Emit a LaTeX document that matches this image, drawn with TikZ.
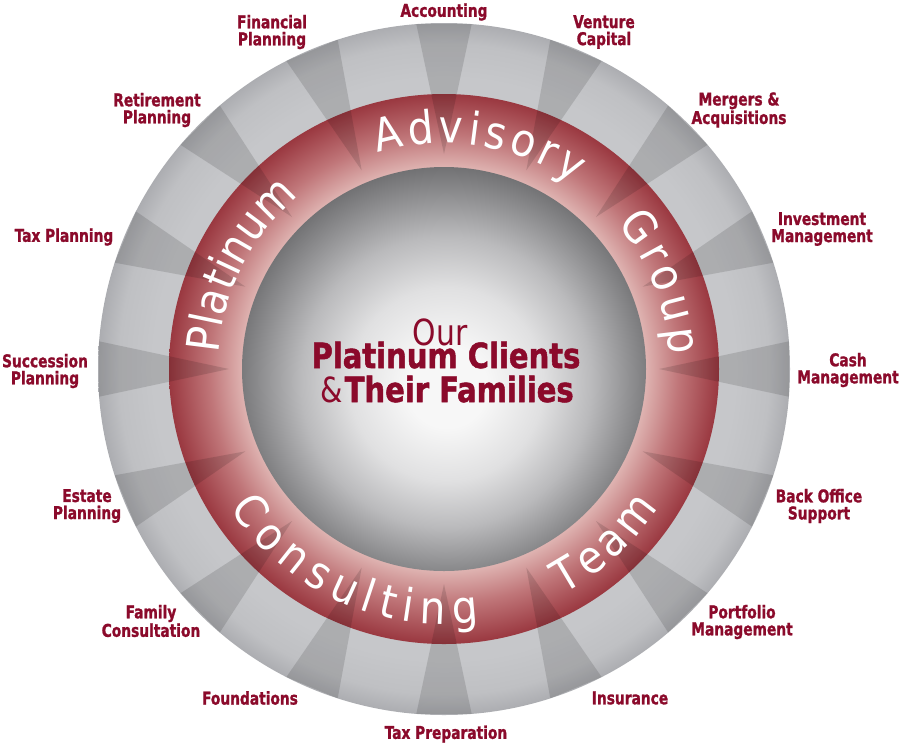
\documentclass[tikz,border=0pt]{standalone}
\usepackage{fontspec}
\usetikzlibrary{decorations.text}
\newfontfamily\lblfont{DejaVuSansCondensed-Bold.ttf}[FakeStretch=0.87, FakeBold=1.2]
\newfontfamily\ctrfont{DejaVuSansCondensed-Bold.ttf}[FakeStretch=0.93, FakeBold=1.4]
\newfontfamily\ringfont{DejaVuSansCondensed.ttf}
\newfontfamily\thinfont{DejaVuSansCondensed.ttf}[FakeStretch=0.92]
\definecolor{lblred}{RGB}{139,10,43}
\definecolor{grayIn}{RGB}{198,199,202}
\definecolor{grayMid}{RGB}{191,192,195}
\definecolor{grayOut}{RGB}{172,173,177}
\definecolor{ringIn}{RGB}{222,178,176}
\definecolor{ringMid}{RGB}{192,118,121}
\definecolor{ringOut}{RGB}{154,56,64}
\definecolor{sphHi}{RGB}{247,247,247}
\definecolor{sphA}{RGB}{224,224,225}
\definecolor{sphB}{RGB}{186,186,188}
\definecolor{sphC}{RGB}{146,146,148}
\definecolor{sphEdge}{RGB}{102,102,104}
\pgfdeclareradialshading{grayring}{\pgfpointorigin}{color(0bp)=(grayIn); color(21bp)=(grayIn); color(23.5bp)=(grayMid); color(25bp)=(grayOut); color(50bp)=(grayOut)}
\pgfdeclareradialshading{redring}{\pgfpointorigin}{color(0bp)=(ringIn); color(18.4bp)=(ringIn); color(21.3bp)=(ringMid); color(25bp)=(ringOut); color(50bp)=(ringOut)}
\pgfdeclareradialshading{sphereshade}{\pgfpoint{0.4bp}{-2.5bp}}{color(0bp)=(sphHi); color(5bp)=(sphHi); color(12bp)=(sphA); color(18bp)=(sphB); color(22.5bp)=(sphC); color(27.5bp)=(sphEdge); color(50bp)=(sphEdge)}

\begin{document}
\begin{tikzpicture}[x=0.75pt,y=0.75pt,yscale=-1,xscale=1,
  svc/.style={font=\lblfont\fontsize{13.2}{12.8}\selectfont, color=lblred, align=center, inner sep=0.75pt},
  shadowwedge/.style={fill=black, fill opacity=0.13, draw opacity=0},
  ringword/.style={decorate, decoration={text along path, text align=fit to path, text={|\ringfont\fontsize{34}{34}\selectfont\color{white}|#1}}}]
%uncomment if require: \path (0,744); %set diagram left start at 0, and has height of 744
\path [use as bounding box, fill=white] (0,0) rectangle (900,744);

%Shape: Circle [id:dp4417302958116321] 
\path [shading=grayring] (444,369) circle (346) ;
%Shape: Circle [id:dp2209183746512204] 
\path [shading=redring] (444,369) circle (275) ;

%Shape: Triangle [id:dp7730215549930112] 
\fill [shadowwedge] (659,369) -- (788.9,396.7) -- (788.9,341.3) -- cycle ;
%Shape: Triangle [id:dp1184027365590021] 
\fill [shadowwedge] (642.6,286.7) -- (773.3,262.7) -- (752,211.4) -- cycle ;
%Shape: Triangle [id:dp9021458733261094] 
\fill [shadowwedge] (596,217) -- (707.5,144.8) -- (668.2,105.5) -- cycle ;
%Shape: Triangle [id:dp3367109925843170] 
\fill [shadowwedge] (526.3,170.4) -- (601.6,61) -- (550.3,39.7) -- cycle ;
%Shape: Triangle [id:dp5502913648070419] 
\fill [shadowwedge] (444,154) -- (471.7,24.1) -- (416.3,24.1) -- cycle ;
%Shape: Triangle [id:dp8812047736520163] 
\fill [shadowwedge] (361.7,170.4) -- (337.7,39.7) -- (286.4,61) -- cycle ;
%Shape: Triangle [id:dp6640192385107725] 
\fill [shadowwedge] (292,217) -- (219.8,105.5) -- (180.5,144.8) -- cycle ;
%Shape: Triangle [id:dp2095573318846602] 
\fill [shadowwedge] (245.4,286.7) -- (136,211.4) -- (114.7,262.7) -- cycle ;
%Shape: Triangle [id:dp4471108250963357] 
\fill [shadowwedge] (229,369) -- (99.1,341.3) -- (99.1,396.7) -- cycle ;
%Shape: Triangle [id:dp7355180442196028] 
\fill [shadowwedge] (245.4,451.3) -- (114.7,475.3) -- (136,526.6) -- cycle ;
%Shape: Triangle [id:dp0937264115588430] 
\fill [shadowwedge] (292,521) -- (180.5,593.2) -- (219.8,632.5) -- cycle ;
%Shape: Triangle [id:dp1568820037741193] 
\fill [shadowwedge] (361.7,567.6) -- (286.4,677) -- (337.7,698.3) -- cycle ;
%Shape: Triangle [id:dp8249361100573316] 
\fill [shadowwedge] (444,584) -- (416.3,713.9) -- (471.7,713.9) -- cycle ;
%Shape: Triangle [id:dp3018842276659147] 
\fill [shadowwedge] (526.3,567.6) -- (550.3,698.3) -- (601.6,677) -- cycle ;
%Shape: Triangle [id:dp6691730415928802] 
\fill [shadowwedge] (596,521) -- (668.2,632.5) -- (707.5,593.2) -- cycle ;
%Shape: Triangle [id:dp2748815093361157] 
\fill [shadowwedge] (642.6,451.3) -- (752,526.6) -- (773.3,475.3) -- cycle ;

%Shape: Circle [id:dp5129930846207713] 
\path [shading=sphereshade] (444,369) circle (202) ;

%Curve Lines [id:da3380174652290941] 
\path [ringword=Platinum] (444,369) ++(-176:226) arc [start angle=-176, end angle=-130, radius=226] ;
%Curve Lines [id:da8127735509146620] 
\path [ringword=Advisory] (444,369) ++(-107:226) arc [start angle=-107, end angle=-55, radius=226] ;
%Curve Lines [id:da2290556181307486] 
\path [ringword=Group] (444,369) ++(-40:226) arc [start angle=-40, end angle=-3.6, radius=226] ;
%Curve Lines [id:da6075128843391127] 
\path [ringword=Consulting] (444,369) ++(147:255) arc [start angle=147, end angle=82, radius=255] ;
%Curve Lines [id:da9471300582716638] 
\path [ringword=Team] (444,369) ++(62:255) arc [start angle=62, end angle=33, radius=255] ;

% Text Node
\draw (440,345) node [anchor=base, inner sep=0.75pt, font=\thinfont\fontsize{27}{27}\selectfont, color=lblred] (our) {Our};
% Text Node
\draw (446,368) node [anchor=base, inner sep=0.75pt, font=\ctrfont\fontsize{26}{26}\selectfont, color=lblred] (clients) {Platinum Clients};
% Text Node
\draw (447,402) node [anchor=base, inner sep=0.75pt, font=\ctrfont\fontsize{26}{26}\selectfont, color=lblred] (families) {{\thinfont\&}\hspace{1.5pt}Their Families};

% Text Node
\draw (444,12) node [svc] (acct) {Accounting};
% Text Node
\draw (604,32) node [svc] (venture) {Venture\\Capital};
% Text Node
\draw (739,110) node [svc] (mergers) {Mergers \&\\Acquisitions};
% Text Node
\draw (822,229) node [svc] (invest) {Investment\\Management};
% Text Node
\draw (848,370) node [svc] (cash) {Cash\\Management};
% Text Node
\draw (819,506) node [svc] (backoff) {Back Office\\Support};
% Text Node
\draw (742,622) node [svc] (portf) {Portfolio\\Management};
% Text Node
\draw (630,698) node [svc] (insur) {Insurance};
% Text Node
\draw (446,734) node [svc] (taxprep) {Tax Preparation};
% Text Node
\draw (250,698) node [svc] (found) {Foundations};
% Text Node
\draw (151,621) node [svc] (family) {Family\\Consultation};
% Text Node
\draw (87,506) node [svc] (estate) {Estate\\Planning};
% Text Node
\draw (45,371) node [svc] (success) {Succession\\Planning};
% Text Node
\draw (64,237) node [svc] (taxplan) {Tax Planning};
% Text Node
\draw (157,110) node [svc] (retire) {Retirement\\Planning};
% Text Node
\draw (272,32) node [svc] (finplan) {Financial\\Planning};
\end{tikzpicture}
\end{document}
